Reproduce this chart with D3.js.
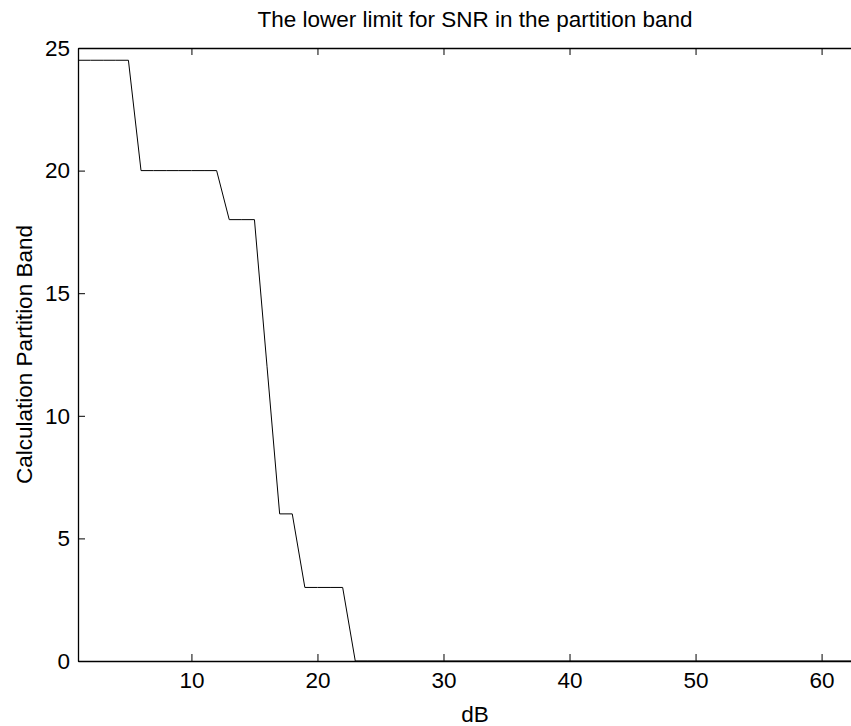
<!DOCTYPE html>
<html lang="en">
<head>
    <meta charset="UTF-8">
    <title>The lower limit for SNR in the partition band</title>
    <script src="https://d3js.org/d3.v7.min.js"></script>
    <style>
        body { margin: 0; background: #fff; overflow: hidden; }
        svg { display: block; font-family: "Liberation Sans", Arial, sans-serif; }
        .tick text { font-size: 22.5px; fill: #000; }
    </style>
</head>
<body>
    <script>
        var w = 851;
        var h = 726;
        var margin = { top: 48, right: 0, bottom: 65, left: 78 };

        // dB steps and the calculated partition band at each
        var dB = [1, 2, 3, 4, 5, 6, 7, 8, 9, 10, 11, 12, 13, 14, 15, 16, 17, 18, 19, 20, 21, 22, 23,
                  24, 30, 40, 50, 60, 64];
        var band = [24.5, 24.5, 24.5, 24.5, 24.5, 20, 20, 20, 20, 20, 20, 20, 18, 18, 18, 12, 6, 6, 3, 3, 3, 3, 0,
                    0, 0, 0, 0, 0, 0];
        var xTicks = [10, 20, 30, 40, 50, 60];
        var yTicks = [0, 5, 10, 15, 20, 25];

        var plotW = 872 - margin.left;   // axes run past the right edge of the picture
        var plotH = h - margin.top - margin.bottom;

        var svg = d3.select("body").append("svg")
            .attr("width", w)
            .attr("height", h);

        var g = svg.append("g")
            .attr("transform", "translate(" + margin.left + "," + margin.top + ")");

        var xScale = d3.scaleLinear().domain([1, 64]).range([0, plotW]);
        var yScale = d3.scaleLinear().domain([0, 25]).range([plotH, 0]);

        // bottom and left axes, ticks pointing in
        g.append("g")
            .attr("transform", "translate(0," + plotH + ")")
            .call(d3.axisBottom(xScale).tickValues(xTicks).tickSizeInner(-7).tickSizeOuter(0).tickPadding(11));
        g.append("g")
            .call(d3.axisLeft(yScale).tickValues(yTicks).tickSizeInner(-7).tickSizeOuter(0).tickPadding(8));

        // top and right mirrored ticks
        g.append("g")
            .call(d3.axisTop(xScale).tickValues(xTicks).tickSizeInner(-7).tickSizeOuter(0).tickFormat(""));
        g.append("g")
            .attr("transform", "translate(" + plotW + ",0)")
            .call(d3.axisRight(yScale).tickValues(yTicks).tickSizeInner(-7).tickSizeOuter(0).tickFormat(""));

        g.selectAll(".domain").attr("stroke", "#000").attr("stroke-width", 1.3);
        g.selectAll(".tick line").attr("stroke", "#000");

        var line = d3.line()
            .x(function (d, i) { return xScale(dB[i]); })
            .y(function (d) { return yScale(d); });

        g.append("path")
            .datum(band)
            .attr("fill", "none")
            .attr("stroke", "#000")
            .attr("stroke-width", 1)
            .attr("d", line);

        svg.append("text")
            .attr("x", margin.left + plotW / 2)
            .attr("y", 27)
            .attr("text-anchor", "middle")
            .style("font-size", "22.5px")
            .text("The lower limit for SNR in the partition band");

        svg.append("text")
            .attr("x", margin.left + plotW / 2)
            .attr("y", 722)
            .attr("text-anchor", "middle")
            .style("font-size", "22.5px")
            .text("dB");

        svg.append("text")
            .attr("transform", "translate(32," + (margin.top + plotH / 2) + ") rotate(-90)")
            .attr("text-anchor", "middle")
            .style("font-size", "22.5px")
            .text("Calculation Partition Band");
    </script>
</body>
</html>
